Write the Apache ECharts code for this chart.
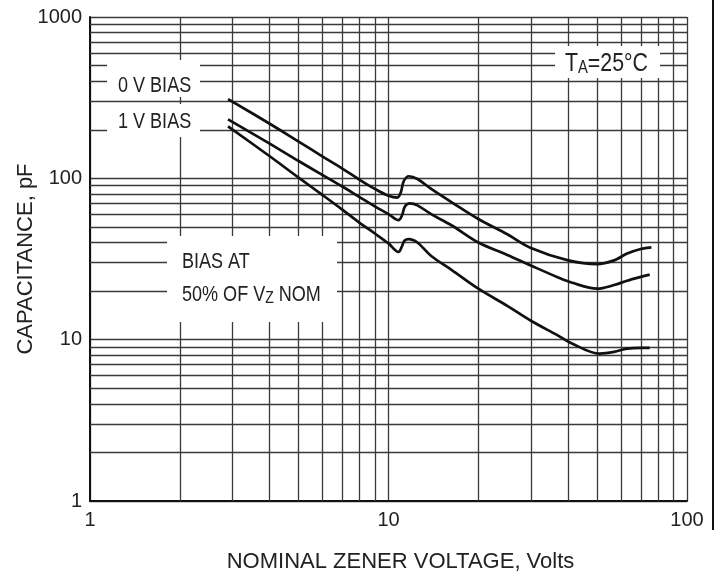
<!DOCTYPE html>
<html>
<head>
<meta charset="utf-8">
<script src="https://cdn.jsdelivr.net/npm/echarts@6.0.0/dist/echarts.min.js"></script>
<style>
  html, body { margin: 0; background: #fff; }
  #chart { width: 726px; height: 576px; }
</style>
</head>
<body>
<div id="chart"></div>
<script>
// curve data (volts, pF)
const volts0V = [2.9, 4, 5, 6, 7, 8, 9, 10, 10.7, 11.0, 11.25, 11.7, 12.5, 13.9, 16.3, 20, 25, 30, 40, 50, 57, 63, 70, 76]
const cap0V = [310, 218, 169, 137, 115, 98, 86, 78, 76, 82, 96, 103, 99, 86, 71, 56, 45, 37, 31, 29.4, 31, 34.2, 36.5, 37.3]

const volts1V = [2.9, 4, 5, 6, 7, 8, 9, 10, 10.8, 11.1, 11.35, 11.8, 12.5, 13.9, 16.3, 20, 25, 30, 37, 41, 50, 57, 63, 70, 75]
const cap1V = [232, 164, 128, 105, 89, 76.5, 67, 60, 55, 59, 67, 70, 68, 60, 51, 40, 33.5, 28.8, 24.3, 22.6, 20.7, 21.8, 23.2, 24.5, 25.3]

const volts50 = [2.9, 4, 5, 6, 7, 8, 9, 10, 10.8, 11.1, 11.3, 11.7, 12.5, 13.9, 16.3, 20, 25, 30, 37, 41, 51, 57, 63, 70, 75]
const cap50 = [210, 137, 101, 79, 64, 53, 45.5, 39.5, 35, 38, 41, 42, 40, 33, 27, 20.7, 16.2, 13.1, 10.6, 9.5, 8.2, 8.4, 8.8, 8.9, 8.9]

// minor grid values (log decades)
const xMinor = [2, 3, 4, 5, 6, 7, 8, 9, 20, 30, 40, 50, 60, 70, 80, 90]
const yMinor = [2, 3, 4, 5, 6, 7, 8, 9, 20, 30, 40, 50, 60, 70, 80, 90, 200, 300, 400, 500, 600, 700, 800, 900]

const sans = '"Liberation Sans", Arial, Helvetica, sans-serif'
const gridColor = '#3a3a3a'
const squeeze = 0.82 // the scan uses a narrow Helvetica

function zip(xs, ys) {
  return xs.map((x, i) => [x, ys[i]])
}

function curve(name, xs, ys) {
  return {
    name,
    type: 'line',
    data: zip(xs, ys),
    smooth: 0.35,
    showSymbol: false,
    symbol: 'none',
    z: 5,
    lineStyle: { color: '#111', width: 2.7 }
  }
}

function note(x, y, style) {
  return { type: 'text', z: 101, x, y, scaleX: squeeze, style }
}

const chart = echarts.init(document.getElementById('chart'))

chart.setOption({
  animation: false,
  backgroundColor: '#fff',
  grid: { left: 90, right: 39, top: 17, bottom: 75, containLabel: false, outerBoundsMode: 'none' },
  xAxis: {
    type: 'log',
    logBase: 10,
    min: 1,
    max: 100,
    name: 'NOMINAL ZENER VOLTAGE, Volts',
    nameLocation: 'middle',
    nameGap: 50,
    nameTextStyle: { fontFamily: sans, fontSize: 22, color: '#222', padding: [0, 0, 0, 24] },
    axisLine: { lineStyle: { color: '#111', width: 2 } },
    axisTick: { show: false },
    axisLabel: { fontFamily: sans, fontSize: 20, color: '#222', margin: 9, formatter: v => String(v) },
    splitLine: { show: true, lineStyle: { color: gridColor, width: 1.3 } }
  },
  yAxis: {
    type: 'log',
    logBase: 10,
    min: 1,
    max: 1000,
    name: 'CAPACITANCE, pF',
    nameLocation: 'middle',
    nameGap: 53,
    nameMoveOverlap: false,
    nameTextStyle: { fontFamily: sans, fontSize: 22, color: '#222' },
    axisLine: { lineStyle: { color: '#111', width: 2 } },
    axisTick: { show: false },
    axisLabel: { fontFamily: sans, fontSize: 20, color: '#222', margin: 8, formatter: v => String(v) },
    splitLine: { show: true, lineStyle: { color: gridColor, width: 1.3 } }
  },
  series: [
    {
      // minor grid lines at 2..9 of every decade
      type: 'line',
      data: [],
      z: 1,
      silent: true,
      markLine: {
        silent: true,
        symbol: ['none', 'none'],
        label: { show: false },
        lineStyle: { type: 'solid', color: gridColor, width: 1.3 },
        data: xMinor.map(v => ({ xAxis: v })).concat(yMinor.map(v => ({ yAxis: v })))
      }
    },
    curve('0 V BIAS', volts0V, cap0V),
    curve('1 V BIAS', volts1V, cap1V),
    curve('BIAS AT 50% OF VZ NOM', volts50, cap50)
  ],
  graphic: {
    elements: [
      // white boxes behind the annotations
      { type: 'rect', z: 100, shape: { x: 107, y: 60, width: 93, height: 37 }, style: { fill: '#fff' } },
      { type: 'rect', z: 100, shape: { x: 107, y: 104, width: 93, height: 33 }, style: { fill: '#fff' } },
      { type: 'rect', z: 100, shape: { x: 167, y: 236, width: 170, height: 86 }, style: { fill: '#fff' } },
      { type: 'rect', z: 100, shape: { x: 555, y: 46, width: 105, height: 32 }, style: { fill: '#fff' } },
      note(118, 75, { text: '0 V BIAS', font: '22px ' + sans, fill: '#222' }),
      note(118, 111, { text: '1 V BIAS', font: '22px ' + sans, fill: '#222' }),
      note(182, 251, { text: 'BIAS AT', font: '22px ' + sans, fill: '#222' }),
      note(182, 283, {
        text: '{a|50% OF V}{s|Z}{a| NOM}',
        rich: {
          a: { fontFamily: sans, fontSize: 22, lineHeight: 24, fill: '#222', color: '#222' },
          s: { fontFamily: sans, fontSize: 17, lineHeight: 8, verticalAlign: 'bottom', fill: '#222', color: '#222' }
        }
      }),
      note(565, 51, {
        text: '{a|T}{s|A}{a|=25°C}',
        rich: {
          a: { fontFamily: sans, fontSize: 26, lineHeight: 26, fill: '#222', color: '#222' },
          s: { fontFamily: sans, fontSize: 18, lineHeight: 18, verticalAlign: 'bottom', fill: '#222', color: '#222' }
        }
      }),
      // dark edge line at the right of the scan
      { type: 'line', z: 101, shape: { x1: 713, y1: 0, x2: 713, y2: 530 }, style: { stroke: '#111', lineWidth: 2 } }
    ]
  }
})
</script>
</body>
</html>
